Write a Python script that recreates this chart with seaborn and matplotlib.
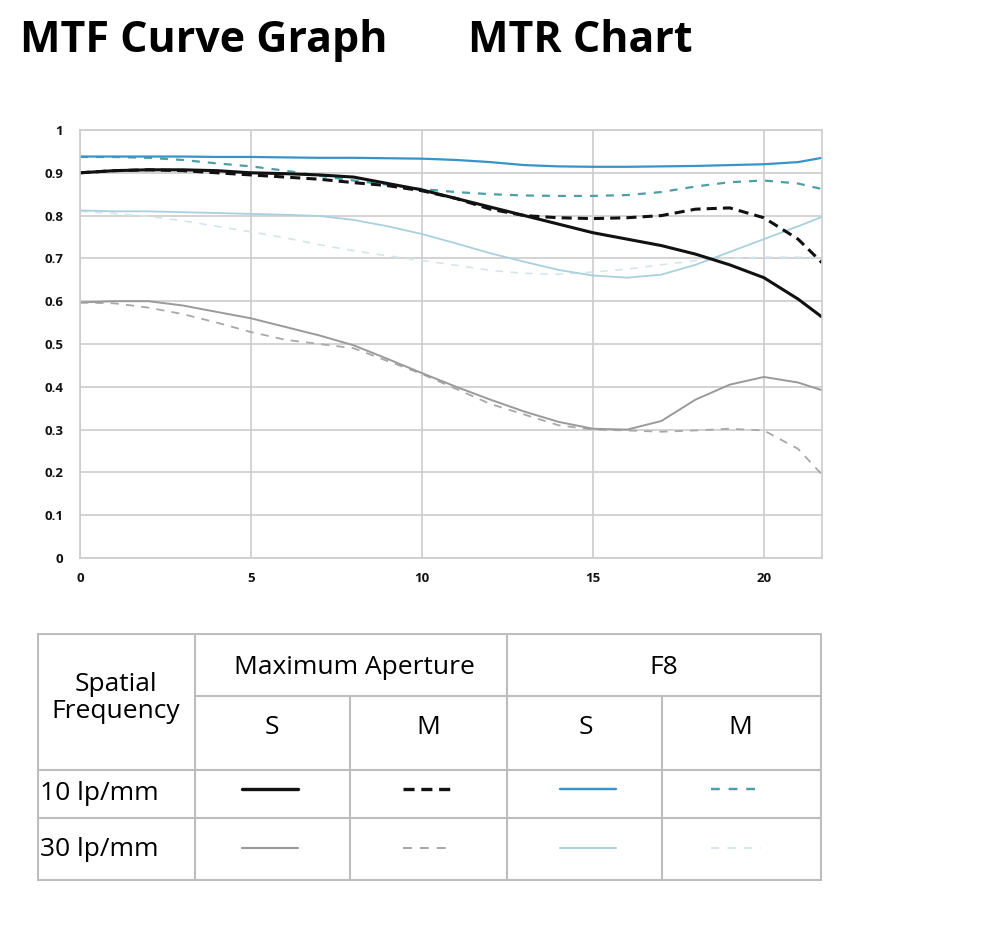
import numpy as np
import pandas as pd
import seaborn as sns
import matplotlib.pyplot as plt

# positions along the image height (mm from centre)
x_pos = [0, 1, 2, 3, 4, 5, 6, 7, 8, 9, 10, 11, 12, 13, 14, 15, 16, 17, 18, 19, 20, 21, 21.7]

# 10 lp/mm
max_s_10 = [0.900, 0.905, 0.907, 0.907, 0.905, 0.900, 0.898, 0.895, 0.890, 0.875, 0.860, 0.840,
            0.820, 0.800, 0.780, 0.760, 0.745, 0.730, 0.710, 0.685, 0.655, 0.605, 0.563]
max_m_10 = [0.900, 0.905, 0.907, 0.905, 0.900, 0.895, 0.890, 0.885, 0.877, 0.870, 0.858, 0.840,
            0.815, 0.800, 0.795, 0.793, 0.795, 0.800, 0.815, 0.818, 0.795, 0.745, 0.690]
f8_s_10 = [0.938, 0.938, 0.938, 0.938, 0.937, 0.937, 0.936, 0.935, 0.935, 0.934, 0.933, 0.930,
           0.925, 0.918, 0.915, 0.914, 0.914, 0.915, 0.916, 0.918, 0.920, 0.925, 0.935]
f8_m_10 = [0.937, 0.937, 0.935, 0.930, 0.922, 0.915, 0.905, 0.893, 0.882, 0.872, 0.862, 0.855,
           0.850, 0.847, 0.846, 0.846, 0.848, 0.855, 0.868, 0.878, 0.882, 0.875, 0.862]

# 30 lp/mm
max_s_30 = [0.597, 0.600, 0.600, 0.590, 0.575, 0.560, 0.540, 0.520, 0.497, 0.465, 0.432, 0.400,
            0.370, 0.342, 0.318, 0.302, 0.300, 0.320, 0.370, 0.405, 0.423, 0.410, 0.392]
max_m_30 = [0.597, 0.595, 0.585, 0.570, 0.550, 0.528, 0.510, 0.500, 0.490, 0.460, 0.430, 0.395,
            0.360, 0.335, 0.310, 0.300, 0.298, 0.295, 0.298, 0.302, 0.298, 0.255, 0.195]
f8_s_30 = [0.812, 0.810, 0.810, 0.808, 0.806, 0.804, 0.802, 0.799, 0.790, 0.775, 0.757, 0.735,
           0.712, 0.692, 0.673, 0.660, 0.655, 0.662, 0.685, 0.715, 0.745, 0.775, 0.797]
f8_m_30 = [0.810, 0.805, 0.798, 0.788, 0.775, 0.762, 0.748, 0.732, 0.718, 0.706, 0.695, 0.684,
           0.672, 0.665, 0.663, 0.668, 0.675, 0.685, 0.695, 0.700, 0.703, 0.703, 0.703]

x_ticks = [0, 5, 10, 15, 20]
y_ticks = [0, 0.1, 0.2, 0.3, 0.4, 0.5, 0.6, 0.7, 0.8, 0.9, 1]
y_tick_labels = ["0", "0.1", "0.2", "0.3", "0.4", "0.5", "0.6", "0.7", "0.8", "0.9", "1"]

sns.set_style("white")
plt.rcParams['font.family'] = ['Open Sans', 'DejaVu Sans']
plt.rcParams['text.color'] = 'black'

# series name -> (values, color, dash pattern or None, width)
series = {
    "30 M F8": (f8_m_30, "#d3e6ec", (4.5, 4.5), 1.2),
    "30 S F8": (f8_s_30, "#a9d0de", None, 1.3),
    "30 M Max": (max_m_30, "#a8a8a8", (4.5, 4.0), 1.3),
    "30 S Max": (max_s_30, "#9a9a9a", None, 1.4),
    "10 M F8": (f8_m_10, "#4e9ea6", (3.6, 3.6), 1.6),
    "10 S F8": (f8_s_10, "#3a93c6", None, 1.6),
    "10 M Max": (max_m_10, "#111111", (3.3, 2.0), 2.2),
    "10 S Max": (max_s_10, "#111111", None, 2.2),
}

fig = plt.figure(figsize=(10, 9.33), dpi=100)
W, H = 1000, 933

# chart area
ax = fig.add_axes([80 / W, (H - 558) / H, (822 - 80) / W, (558 - 130) / H])
for name, (vals, col, dash, lw) in series.items():
    df = pd.DataFrame({"x": x_pos, "y": vals})
    sns.lineplot(data=df, x="x", y="y", ax=ax, color=col, linewidth=lw,
                 linestyle=(0, dash) if dash else "-")

ax.set_xlim(0, 21.7)
ax.set_ylim(0, 1)
ax.set_xticks(x_ticks)
ax.set_yticks(y_ticks)
ax.set_yticklabels(y_tick_labels)
ax.set_xlabel("")
ax.set_ylabel("")
ax.grid(True, color="#cccccc", linewidth=1.2)
for sp in ax.spines.values():
    sp.set_color("#cccccc")
    sp.set_linewidth(1.2)
ax.tick_params(axis="both", length=0, labelsize=9.5, colors="#111111")
ax.tick_params(axis="y", pad=12)
ax.tick_params(axis="x", pad=10)
for lab in ax.get_xticklabels() + ax.get_yticklabels():
    lab.set_fontweight("bold")

# titles
fig.text(20 / W, (H - 52) / H, "MTF Curve Graph", fontsize=31, fontweight="bold", va="baseline")
fig.text(468 / W, (H - 52) / H, "MTR Chart", fontsize=31, fontweight="bold", va="baseline")

# legend table
tx = fig.add_axes([37 / W, (H - 881) / H, (822 - 37) / W, (881 - 633) / H])
tx.set_xlim(37, 822)
tx.set_ylim(881, 633)
tx.axis("off")
grid_col = "#bdbdbd"
tx.hlines([634, 880], 37, 822, color=grid_col, lw=1.5)
tx.vlines([38, 821], 633, 881, color=grid_col, lw=1.5)
tx.hlines(696, 195, 822, color=grid_col, lw=1.5)
tx.hlines([770, 818], 37, 822, color=grid_col, lw=1.5)
tx.vlines([195, 507], 633, 881, color=grid_col, lw=1.5)
tx.vlines([350, 662], 696, 881, color=grid_col, lw=1.5)

tfs = 19
tx.text(116, 698, "Spatial\nFrequency", ha="center", va="center", fontsize=tfs, linespacing=1.1)
tx.text(354, 667, "Maximum Aperture", ha="center", va="center", fontsize=tfs)
tx.text(664, 667, "F8", ha="center", va="center", fontsize=tfs)
for cx, lab in zip([272, 428, 586, 740], ["S", "M", "S", "M"]):
    tx.text(cx, 727, lab, ha="center", va="center", fontsize=tfs)
tx.text(40, 793, "10 lp/mm", ha="left", va="center", fontsize=tfs)
tx.text(40, 850, "30 lp/mm", ha="left", va="center", fontsize=tfs)

# legend samples
cell_x = {"S Max": 270, "M Max": 428, "S F8": 588, "M F8": 736}
row_y = {"10": 789, "30": 848}
for name, (vals, col, dash, lw) in series.items():
    freq, sm, ap = name.split()
    cx = cell_x[sm + " " + ap]
    half = 28 if dash is None else 25
    tx.plot([cx - half, cx + half], [row_y[freq], row_y[freq]], color=col,
            linewidth=lw * 1.1, linestyle=(0, dash) if dash else "-")

fig.savefig("out.png", dpi=100, facecolor="white")
